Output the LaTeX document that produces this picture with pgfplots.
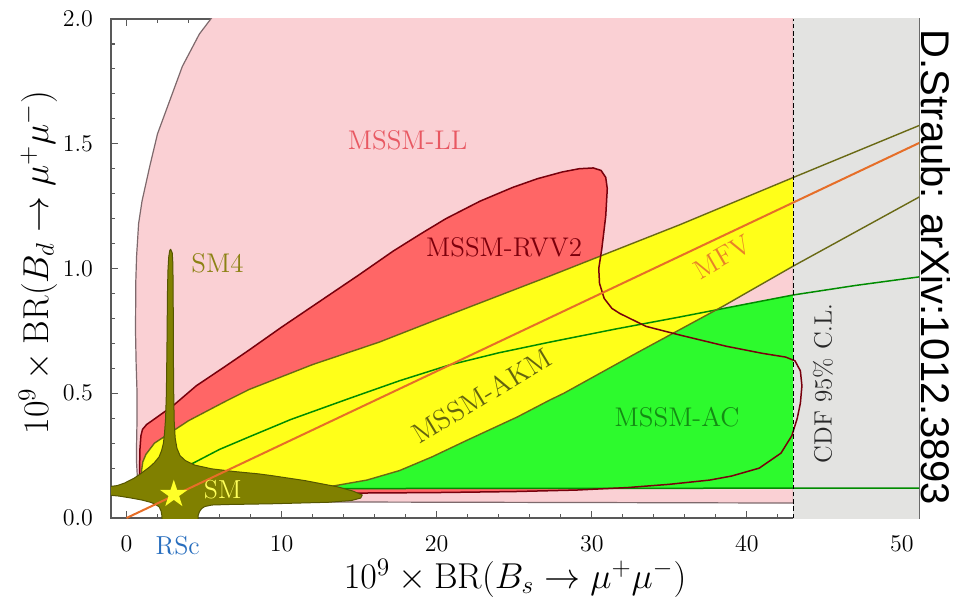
\RequirePackage{fix-cm}
\documentclass[border=0pt]{standalone}
\usepackage{fontspec}
\usepackage{pgfplots}
\usepackage{pgfplotstable}
\pgfplotsset{compat=1.18}
\newfontfamily\strfont{Liberation Sans}

\definecolor{pinkfill}{RGB}{250,208,212}
\definecolor{pinkline}{RGB}{125,105,108}
\definecolor{grayfill}{RGB}{227,227,225}
\definecolor{redfill}{RGB}{255,102,102}
\definecolor{redline}{RGB}{120,0,12}
\definecolor{yellowfill}{RGB}{255,255,25}
\definecolor{oliveline}{RGB}{105,105,20}
\definecolor{greenfill}{RGB}{45,250,45}
\definecolor{greenline}{RGB}{0,140,0}
\definecolor{orangeline}{RGB}{230,110,40}
\definecolor{smfour}{RGB}{128,128,0}
\definecolor{smfourline}{RGB}{85,85,0}
\definecolor{llcol}{RGB}{232,88,98}
\definecolor{rvvcol}{RGB}{125,0,12}
\definecolor{sm4col}{RGB}{140,130,20}
\definecolor{mfvcol}{RGB}{232,130,40}
\definecolor{akmcol}{RGB}{100,100,15}
\definecolor{accol}{RGB}{20,140,20}
\definecolor{smcol}{RGB}{255,255,90}
\definecolor{starcol}{RGB}{255,255,40}
\definecolor{cdfcol}{RGB}{40,40,40}
\definecolor{rscblue}{RGB}{40,110,190}

\pgfdeclareplotmark{fstar}{%
 \pgfpathmoveto{\pgfpointpolar{90}{\pgfplotmarksize}}%
 \pgfpathlineto{\pgfpointpolar{126}{0.382*\pgfplotmarksize}}%
 \pgfpathlineto{\pgfpointpolar{162}{\pgfplotmarksize}}%
 \pgfpathlineto{\pgfpointpolar{198}{0.382*\pgfplotmarksize}}%
 \pgfpathlineto{\pgfpointpolar{234}{\pgfplotmarksize}}%
 \pgfpathlineto{\pgfpointpolar{270}{0.382*\pgfplotmarksize}}%
 \pgfpathlineto{\pgfpointpolar{306}{\pgfplotmarksize}}%
 \pgfpathlineto{\pgfpointpolar{342}{0.382*\pgfplotmarksize}}%
 \pgfpathlineto{\pgfpointpolar{18}{\pgfplotmarksize}}%
 \pgfpathlineto{\pgfpointpolar{54}{0.382*\pgfplotmarksize}}%
 \pgfpathclose
 \pgfusepathqfill}

% MSSM-LL region
\pgfplotstableread{
x y
5.8 2.03
4.7 1.94
3.6 1.81
2.8 1.675
2.0 1.54
1.5 1.41
1.0 1.27
0.78 1.18
0.65 1.05
0.6 0.95
0.58 0.75
0.62 0.62
0.68 0.50
0.68 0.40
0.65 0.30
0.65 0.22
0.72 0.14
0.95 0.09
1.5 0.072
3 0.066
15 0.064
30 0.062
43 0.06
43 2.03
}\tblLL

% MSSM-RVV2 region
\pgfplotstableread{
x y
0.84 0.12
0.84 0.19
0.87 0.28
0.93 0.33
1.03 0.355
1.3 0.375
1.6 0.388
3 0.45
4.5 0.53
6.3 0.605
7.9 0.673
10 0.765
12.5 0.87
15 0.975
17.2 1.07
19 1.14
20.6 1.2
22.8 1.27
24.9 1.325
26.5 1.36
28.1 1.387
29.2 1.4
30.1 1.403
30.6 1.393
30.9 1.365
31.0 1.32
30.9 1.21
30.65 1.08
30.45 1.0
30.5 0.94
30.8 0.88
31.3 0.84
31.8 0.82
33.5 0.768
35.7 0.733
38.7 0.688
41 0.66
42.5 0.645
43.1 0.63
43.45 0.59
43.55 0.53
43.45 0.46
43.25 0.4
42.9 0.33
42.2 0.26
40.8 0.2
39 0.168
37.6 0.152
35 0.135
32.3 0.122
29 0.112
25 0.106
20 0.102
15 0.1
8 0.1
3 0.102
1.2 0.106
0.9 0.112
0.84 0.12
}\tblRVV

% MSSM-AC fill
\pgfplotstableread{
x y
3 0.118
3 0.19
4.3 0.22
6 0.275
7.9 0.325
10.6 0.395
14.4 0.48
17.6 0.55
20.8 0.613
24 0.662
27.3 0.705
31.5 0.757
35.7 0.806
39.5 0.852
43 0.894
43 0.118
}\tblACfill

% MSSM-AC upper line
\pgfplotstableread{
x y
3.5 0.2
4.3 0.22
6 0.275
7.9 0.325
10.6 0.395
14.4 0.48
17.6 0.55
20.8 0.613
24 0.662
27.3 0.705
31.5 0.757
35.7 0.806
39.5 0.852
43 0.894
47 0.932
51.3 0.968
}\tblACline

% MSSM-AKM band
\pgfplotstableread{
x y
51.3 1.293
43 1.01
38.5 0.85
33 0.665
28.2 0.50
27.3 0.473
25.2 0.405
21.9 0.31
19.7 0.245
17.6 0.19
15.5 0.152
13.3 0.128
10 0.125
6 0.13
3 0.14
1.4 0.145
1.05 0.16
0.97 0.19
1.05 0.225
1.25 0.255
1.8 0.30
4 0.39
6.3 0.465
7.9 0.515
12 0.615
16.3 0.705
20 0.795
27.3 0.97
35.7 1.176
43 1.365
51.3 1.578
}\tblAKM

% SM4 region
\pgfplotstableread{
x y
2.84 1.078
2.95 1.062
2.99 1.02
3.01 0.9
3.02 0.75
3.03 0.6
3.05 0.47
3.08 0.38
3.14 0.32
3.25 0.28
3.45 0.25
3.8 0.23
4.4 0.212
5.5 0.197
7 0.186
8.5 0.177
9.35 0.17
11.5 0.15
13.6 0.125
14.6 0.108
15.2 0.092
15.1 0.08
14.5 0.07
13 0.063
9.35 0.057
6.5 0.054
5.5 0.052
5.05 0.046
4.85 0.038
4.7 0.025
4.62 0.01
4.6 -0.02
2.3 -0.02
2.28 0.01
2.22 0.03
2.1 0.045
1.85 0.055
1.6 0.062
1 0.072
0.3 0.08
-0.5 0.088
-1.2 0.092
-1.2 0.125
-0.6 0.13
-0.13 0.14
0.5 0.16
0.97 0.18
1.5 0.205
1.8 0.222
2.1 0.245
2.26 0.27
2.38 0.30
2.45 0.34
2.52 0.40
2.57 0.50
2.61 0.7
2.64 0.9
2.67 0.99
2.72 1.045
2.78 1.07
2.84 1.078
}\tblSMfour

\begin{document}
\begin{tikzpicture}
\useasboundingbox (0,0) rectangle (478.5pt,300.5pt);
\begin{axis}[
  at={(55.5pt,41.5pt)}, anchor=south west,
  width=404pt, height=249.5pt, scale only axis,
  xmin=-1, xmax=51.1, ymin=0, ymax=2,
  xtick={0,10,20,30,40,50}, minor x tick num=4,
  ytick={0,0.5,1,1.5,2}, minor y tick num=4,
  major tick length=3.5pt, minor tick length=2pt,
  axis line style={black!65, line width=0.6pt},
  tick style={black!65, line width=0.6pt},
  tick label style={font=\fontsize{12}{14}\selectfont},
  xticklabel style={yshift=-5.5pt},
  yticklabel style={xshift=-5.5pt, /pgf/number format/fixed, /pgf/number format/fixed zerofill, /pgf/number format/precision=1},
  extra x ticks={3.3},
  extra x tick labels={\textcolor{rscblue}{\fontsize{13}{15}\selectfont RSc}},
  extra x tick style={major tick length=0pt, tick style={draw=none}},
  every axis x label/.style={at={(axis description cs:0.5,-0.1202)}, anchor=center, font=\fontsize{18}{22}\selectfont},
  every axis y label/.style={at={(axis description cs:-0.0903,0.512)}, rotate=90, anchor=center, font=\fontsize{18}{22}\selectfont},
  xlabel={$10^9\times\mathrm{BR}(B_s\to\mu^+\mu^-)$},
  ylabel={$10^9\times\mathrm{BR}(B_d\to\mu^+\mu^-)$},
]
% fills
\addplot[fill=pinkfill, draw=pinkline, line width=0.6pt] table {\tblLL};
\addplot[fill=redfill, draw=none] table {\tblRVV};
\addplot[fill=greenfill, draw=none] table {\tblACfill};
\addplot[fill=yellowfill, draw=none] table {\tblAKM};
% excluded region
\addplot[fill=grayfill, draw=none] coordinates {(43,-0.1) (52,-0.1) (52,2.1) (43,2.1)};
% lines
\addplot[greenline, line width=0.75pt] table {\tblACline};
\addplot[greenline, line width=0.75pt] coordinates {(13,0.118) (51.3,0.12)};
\addplot[oliveline, line width=0.7pt] table {\tblAKM};
\addplot[redline, line width=0.75pt] table {\tblRVV};
\addplot[fill=smfour, draw=smfourline, line width=0.5pt] table {\tblSMfour};
\addplot[orangeline, line width=1pt] coordinates {(0,0) (51.3,1.5088)};
\addplot[black, line width=0.7pt, dash pattern=on 2.2pt off 1.4pt] coordinates {(43,0) (43,2)};
\addplot[only marks, mark=fstar, mark size=7.3pt, starcol, fill=starcol, draw=none] coordinates {(3.05,0.095)};
% labels
\node[text=llcol, font=\fontsize{13.5}{16}\selectfont] at (axis cs:18.13,1.515) {MSSM-LL};
\node[text=rvvcol, font=\fontsize{13.5}{16}\selectfont] at (axis cs:24.35,1.087) {MSSM-RVV2};
\node[text=sm4col, font=\fontsize{13.5}{16}\selectfont] at (axis cs:5.87,1.022) {SM4};
\node[text=mfvcol, rotate=30, font=\fontsize{13.5}{16}\selectfont] at (axis cs:38.45,1.046) {MFV};
\node[text=akmcol, rotate=31, font=\fontsize{14}{16}\selectfont] at (axis cs:22.9,0.49) {MSSM-AKM};
\node[text=accol, font=\fontsize{13.5}{16}\selectfont] at (axis cs:35.5,0.405) {MSSM-AC};
\node[text=smcol, font=\fontsize{13}{15}\selectfont] at (axis cs:6.2,0.112) {SM};
\node[text=cdfcol, rotate=90, font=\fontsize{12.5}{15}\selectfont] at (axis cs:44.9,0.54) {CDF 95\% C.L.};
\end{axis}
\node[rotate=-90, font=\strfont\fontsize{20}{24}\selectfont, inner sep=0pt] at (468pt,166.75pt) {D.Straub: arXiv:1012.3893};
\end{tikzpicture}
\end{document}
